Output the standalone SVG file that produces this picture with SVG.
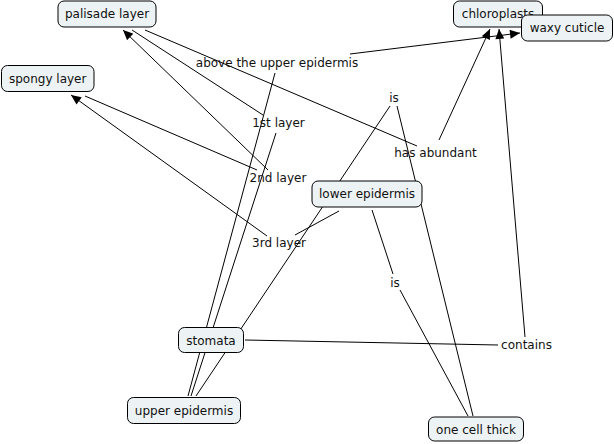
<svg xmlns="http://www.w3.org/2000/svg" width="614" height="444" viewBox="0 0 614 444">
<style>
.node rect{fill:#edf3f5;stroke:#000;stroke-width:1}
text{font-family:"DejaVu Sans",Verdana,sans-serif;font-size:12px;fill:#111;text-anchor:middle}
.conn line{stroke:#000;stroke-width:1}
.arr{marker-end:url(#ah)}
</style>
<defs>
<marker id="ah" viewBox="0 0 10 9" markerWidth="11" markerHeight="9" refX="10" refY="4.5" orient="auto" markerUnits="userSpaceOnUse">
<path d="M0,0 L10,4.5 L0,9 z" fill="#000"/>
</marker>
</defs>
<rect width="614" height="444" fill="#fff"/>
<g id="connectors" class="conn">
<line x1="188" y1="396" x2="275" y2="73"/>
<line class="arr" x1="350" y1="54" x2="520" y2="33"/>
<line x1="191" y1="396" x2="276" y2="133"/>
<line x1="263" y1="115" x2="132" y2="30"/>
<line x1="196" y1="396" x2="390" y2="106"/>
<line x1="397" y1="106" x2="473" y2="416"/>
<line x1="372" y1="210" x2="393" y2="274"/>
<line x1="400" y1="290" x2="468" y2="416"/>
<line x1="145" y1="30" x2="417" y2="146"/>
<line class="arr" x1="439" y1="140" x2="490" y2="29"/>
<line x1="245" y1="340" x2="498" y2="345"/>
<line class="arr" x1="525" y1="337" x2="499" y2="29"/>
<line x1="85" y1="96" x2="257" y2="170"/>
<line class="arr" x1="268" y1="170" x2="123" y2="30"/>
<line x1="339" y1="211" x2="295" y2="235"/>
<line class="arr" x1="267" y1="236" x2="71" y2="95"/>
</g>
<g id="labels">
<text x="277" y="67">above the upper epidermis</text>
<text x="278.5" y="127">1st layer</text>
<text x="278" y="182">2nd layer</text>
<text x="279" y="247">3rd layer</text>
<text x="394" y="102">is</text>
<text x="435.5" y="157">has abundant</text>
<text x="395" y="287">is</text>
<text x="526.5" y="349">contains</text>
</g>
<g id="palisade-layer" class="node"><rect x="58" y="1" width="98" height="26" rx="6"/><text x="107" y="17.5">palisade layer</text></g>
<g id="spongy-layer" class="node"><rect x="1.5" y="65.5" width="92.5" height="26" rx="6"/><text x="47.7" y="83">spongy layer</text></g>
<g id="chloroplasts" class="node"><rect x="453.5" y="1" width="89" height="26" rx="6"/><text x="498" y="17.5">chloroplasts</text></g>
<g id="waxy-cuticle" class="node"><rect x="521.5" y="15" width="91" height="26" rx="6"/><text x="567" y="31.5">waxy cuticle</text></g>
<g id="lower-epidermis" class="node"><rect x="312" y="181" width="110" height="26" rx="6"/><text x="367" y="198">lower epidermis</text></g>
<g id="stomata" class="node"><rect x="178.5" y="327.5" width="65" height="25" rx="6"/><text x="211" y="345">stomata</text></g>
<g id="upper-epidermis" class="node"><rect x="127.5" y="397.5" width="113" height="26" rx="6"/><text x="184" y="415">upper epidermis</text></g>
<g id="one-cell-thick" class="node"><rect x="428.5" y="417" width="95" height="24" rx="6"/><text x="476" y="434">one cell thick</text></g>
</svg>
